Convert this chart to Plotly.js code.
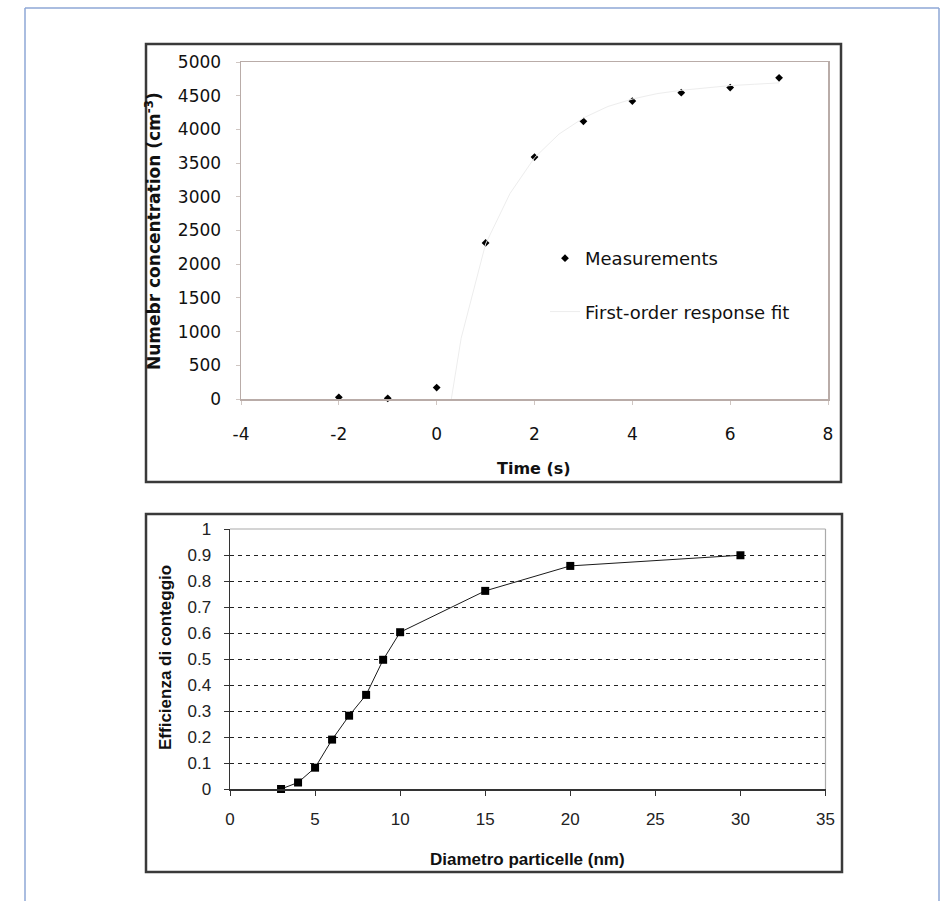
<!DOCTYPE html>
<html>
<head>
<meta charset="utf-8">
<script src="https://cdn.plot.ly/plotly-3.0.1.min.js"></script>
<style>
  html, body { margin: 0; padding: 0; background: #ffffff; }
  #chart { width: 946px; height: 901px; }
</style>
</head>
<body>
<div id="chart"></div>
<script>
// ---- Top chart data: number concentration vs time ----
const timeS = [-2, -1, 0, 1, 2, 3, 4, 5, 6, 7];
const concentration = [25, 10, 170, 2315, 3590, 4120, 4420, 4545, 4620, 4765];
// faint first-order response fit
const fitTime = [0.3, 0.5, 1, 1.5, 2, 2.5, 3, 3.5, 4, 4.5, 5, 5.5, 6, 6.5, 7];
const fitConc = [0, 900, 2300, 3050, 3580, 3930, 4170, 4340, 4450, 4530, 4580, 4620, 4650, 4670, 4690];
const topXTicks = [-4, -2, 0, 2, 4, 6, 8];
const topXTickText = ["-4", "-2", "0", "2", "4", "6", "8"];
const topYTicks = [0, 500, 1000, 1500, 2000, 2500, 3000, 3500, 4000, 4500, 5000];
const topYTickText = ["0", "500", "1000", "1500", "2000", "2500", "3000", "3500", "4000", "4500", "5000"];

// ---- Bottom chart data: counting efficiency vs particle diameter ----
const diameterNm = [3, 4, 5, 6, 7, 8, 9, 10, 15, 20, 30];
const efficiency = [0.0, 0.025, 0.082, 0.19, 0.282, 0.362, 0.497, 0.603, 0.762, 0.858, 0.899];
const botXTicks = [0, 5, 10, 15, 20, 25, 30, 35];
const botYTicks = [0, 0.1, 0.2, 0.3, 0.4, 0.5, 0.6, 0.7, 0.8, 0.9, 1];
const botYTickText = ["0", "0.1", "0.2", "0.3", "0.4", "0.5", "0.6", "0.7", "0.8", "0.9", "1"];

// ---- pixel helpers ----
const W = 946, H = 901;
const fx = x => x / W;
const fy = y => 1 - y / H;

const topFont = "DejaVu Sans, Arial, sans-serif";
const botFont = "Liberation Sans, Arial, sans-serif";

const traces = [
  {
    x: timeS, y: concentration, type: "scatter", mode: "markers",
    name: "Measurements", legendgroup: "a",
    marker: { symbol: "diamond", size: 6, color: "#000000" },
    xaxis: "x", yaxis: "y", cliponaxis: false
  },
  {
    x: fitTime, y: fitConc, type: "scatter", mode: "lines",
    name: "First-order response fit", legendgroup: "b",
    line: { color: "#ededed", width: 1 },
    xaxis: "x", yaxis: "y"
  },
  {
    x: diameterNm, y: efficiency, type: "scatter", mode: "lines+markers",
    showlegend: false,
    marker: { symbol: "square", size: 8, color: "#000000" },
    line: { color: "#1a1a1a", width: 1 },
    xaxis: "x2", yaxis: "y2", cliponaxis: false
  }
];

const layout = {
  width: W, height: H,
  margin: { l: 0, r: 0, t: 0, b: 0, pad: 0 },
  paper_bgcolor: "#ffffff",
  plot_bgcolor: "#ffffff",
  showlegend: true,
  legend: {
    x: fx(545), y: fy(240), xanchor: "left", yanchor: "top",
    bgcolor: "rgba(0,0,0,0)", borderwidth: 0,
    traceorder: "grouped", tracegroupgap: 27,
    font: { family: topFont, size: 18, color: "#111111" }
  },
  xaxis: {
    domain: [fx(241), fx(828)], anchor: "y",
    range: [-4, 8], tickvals: topXTicks, ticktext: topXTickText,
    showgrid: false, zeroline: false,
    showline: true, linecolor: "#b9aca8", linewidth: 1.5, mirror: true,
    ticks: "outside", ticklen: 4, tickcolor: "#cfc6c2",
    ticklabelstandoff: 15,
    tickfont: { family: topFont, size: 17, color: "#111111" }
  },
  yaxis: {
    domain: [fy(399), fy(62)], anchor: "x",
    range: [0, 5000], tickvals: topYTicks, ticktext: topYTickText,
    showgrid: false, zeroline: false,
    showline: true, linecolor: "#b9aca8", linewidth: 1.5, mirror: true,
    ticks: "outside", ticklen: 4, tickcolor: "#cfc6c2",
    ticklabelstandoff: 11,
    tickfont: { family: topFont, size: 17, color: "#111111" }
  },
  xaxis2: {
    domain: [fx(230), fx(825.5)], anchor: "y2",
    range: [0, 35], tickvals: botXTicks,
    showgrid: false, zeroline: false,
    showline: true, linecolor: "#333333", linewidth: 1.5,
    ticks: "outside", ticklen: 5, tickcolor: "#333333", tickwidth: 1,
    ticklabelstandoff: 9,
    tickfont: { family: botFont, size: 17, color: "#222222" }
  },
  yaxis2: {
    domain: [fy(789), fy(529)], anchor: "x2",
    range: [0, 1], tickvals: botYTicks, ticktext: botYTickText,
    showgrid: true, gridcolor: "#222222", gridwidth: 1, griddash: "4px,4px",
    zeroline: false,
    showline: true, linecolor: "#333333", linewidth: 1.5,
    ticks: "outside", ticklen: 5, tickcolor: "#333333", tickwidth: 1,
    ticklabelstandoff: 9,
    tickfont: { family: botFont, size: 17, color: "#222222" }
  },
  shapes: [
    // outer blue frame
    { type: "line", xref: "paper", yref: "paper", x0: fx(25), x1: fx(25), y0: fy(8), y1: fy(901),
      line: { color: "#8ea7d6", width: 1.5 } },
    { type: "line", xref: "paper", yref: "paper", x0: fx(25), x1: fx(939), y0: fy(8), y1: fy(8),
      line: { color: "#8ea7d6", width: 1.5 } },
    { type: "line", xref: "paper", yref: "paper", x0: fx(939), x1: fx(939), y0: fy(8), y1: fy(901),
      line: { color: "#8ea7d6", width: 1.5 } },
    // top chart box
    { type: "rect", xref: "paper", yref: "paper", x0: fx(146), x1: fx(841), y0: fy(482), y1: fy(44),
      line: { color: "#3a3a3a", width: 2.5 }, fillcolor: "rgba(0,0,0,0)", layer: "below" },
    // bottom chart box
    { type: "rect", xref: "paper", yref: "paper", x0: fx(146), x1: fx(842), y0: fy(872), y1: fy(514),
      line: { color: "#3a3a3a", width: 2.5 }, fillcolor: "rgba(0,0,0,0)", layer: "below" },
    // bottom plot area light border (top and right)
    { type: "line", xref: "paper", yref: "paper", x0: fx(230), x1: fx(825.5), y0: fy(529), y1: fy(529),
      line: { color: "#aaaaaa", width: 1.2 } },
    { type: "line", xref: "paper", yref: "paper", x0: fx(825.5), x1: fx(825.5), y0: fy(529), y1: fy(789),
      line: { color: "#aaaaaa", width: 1.2 } }
  ],
  annotations: [
    { text: "<b>Numebr concentration (cm<sup>-3</sup>)</b>", xref: "paper", yref: "paper",
      x: fx(153), y: fy(231), xanchor: "center", yanchor: "middle", textangle: -90, showarrow: false,
      font: { family: topFont, size: 17, color: "#111111" } },
    { text: "<b>Time (s)</b>", xref: "paper", yref: "paper",
      x: fx(534), y: fy(468), xanchor: "center", yanchor: "middle", showarrow: false,
      font: { family: topFont, size: 16, color: "#111111" } },
    { text: "<b>Efficienza di conteggio</b>", xref: "paper", yref: "paper",
      x: fx(165), y: fy(658), xanchor: "center", yanchor: "middle", textangle: -90, showarrow: false,
      font: { family: botFont, size: 17, color: "#111111" } },
    { text: "<b>Diametro particelle (nm)</b>", xref: "paper", yref: "paper",
      x: fx(527), y: fy(859), xanchor: "center", yanchor: "middle", showarrow: false,
      font: { family: botFont, size: 17, color: "#111111" } }
  ]
};

Plotly.newPlot("chart", traces, layout, { displayModeBar: false, staticPlot: true });
</script>
</body>
</html>
